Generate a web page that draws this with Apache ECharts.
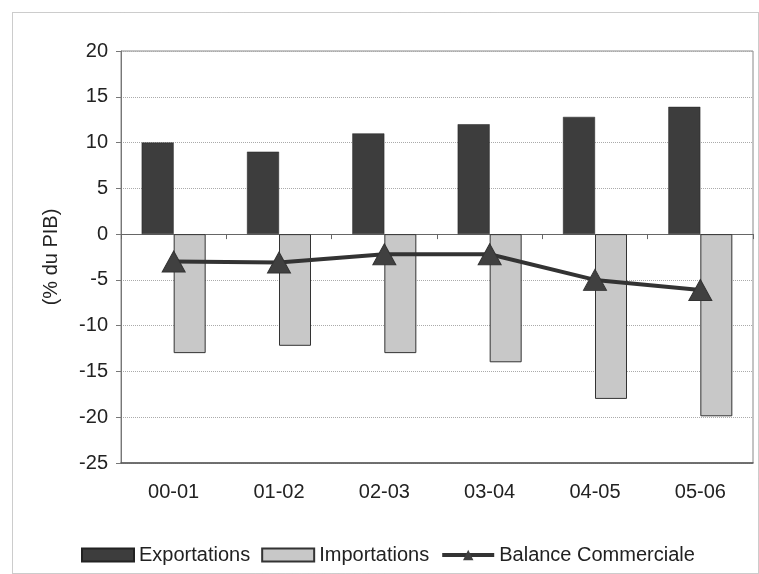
<!DOCTYPE html>
<html>
<head>
<meta charset="utf-8">
<script src="https://cdn.jsdelivr.net/npm/echarts@6/dist/echarts.min.js"></script>
<style>html,body{margin:0;padding:0;background:#fff}#c{width:759px;height:574px}</style>
</head>
<body>
<div id="c"></div>
<script>
var categories = ['00-01', '01-02', '02-03', '03-04', '04-05', '05-06'];
var exportations = [10, 9, 11, 12, 12.8, 13.9];
var importations = [-13, -12.2, -13, -14, -18, -19.9];
var balance = [-3, -3.1, -2.2, -2.2, -5, -6.1];
var yTicks = [-25, -20, -15, -10, -5, 0, 5, 10, 15, 20];

var chart = echarts.init(document.getElementById('c'));
var font = 'Liberation Sans, Arial, sans-serif';
chart.setOption({
  backgroundColor: '#fff',
  animation: false,
  graphic: [{
    type: 'rect', left: 10, top: 10, shape: {width: 746, height: 561},
    style: {fill: 'none', stroke: '#999', lineWidth: 1, lineDash: [1, 1]}, silent: true
  }],
  grid: {left: 121, right: 6, top: 51, bottom: 111, show: true, borderColor: '#888', borderWidth: 1, backgroundColor: '#fff'},
  legend: {
    top: 545, left: 81, width: 670, padding: 0,
    itemWidth: 52, itemHeight: 13, itemGap: 11,
    textStyle: {fontFamily: font, fontSize: 20, color: '#222'},
    data: [
      {name: 'Exportations', icon: 'rect'},
      {name: 'Importations', icon: 'rect'},
      {name: 'Balance Commerciale', lineStyle: {width: 4, color: '#333'}}
    ]
  },
  xAxis: [{
    type: 'category', data: categories, position: 'bottom',
    axisLine: {onZero: false, lineStyle: {color: '#555', width: 1.5}},
    axisTick: {show: false},
    axisLabel: {fontFamily: font, fontSize: 20, color: '#222', margin: 19},
    splitLine: {show: false}
  }, {
    type: 'category', data: categories, position: 'top',
    axisLine: {onZero: true, lineStyle: {color: '#666', width: 1}},
    axisTick: {show: true, inside: true, length: 5, lineStyle: {color: '#666'}},
    axisLabel: {show: false}
  }],
  yAxis: {
    type: 'value', min: -25, max: 20, interval: 5,
    name: '(% du PIB)', nameLocation: 'middle', nameGap: 60, nameRotate: 90,
    nameTextStyle: {fontFamily: font, fontSize: 20, color: '#222'},
    axisLine: {show: true, lineStyle: {color: '#777'}},
    axisTick: {show: true, length: 5, lineStyle: {color: '#777'}},
    axisLabel: {fontFamily: font, fontSize: 20, color: '#222', margin: 13,
      formatter: function (v) { return yTicks.indexOf(v) >= 0 ? String(v) : ''; }},
    splitLine: {show: true, lineStyle: {color: '#aaa', type: [1, 1], width: 1}}
  },
  series: [{
    name: 'Exportations', type: 'bar', data: exportations, barWidth: 32, barGap: '0%',
    itemStyle: {color: '#3d3d3d', borderColor: '#222', borderWidth: 0.5}
  }, {
    name: 'Importations', type: 'bar', data: importations, barWidth: 32,
    itemStyle: {color: '#c8c8c8', borderColor: '#333', borderWidth: 1}
  }, {
    name: 'Balance Commerciale', type: 'line', data: balance,
    symbol: 'triangle', symbolSize: [23, 21],
    lineStyle: {color: '#333', width: 4},
    itemStyle: {color: '#404040', borderColor: '#333'},
    z: 5
  }]
});
</script>
</body>
</html>
